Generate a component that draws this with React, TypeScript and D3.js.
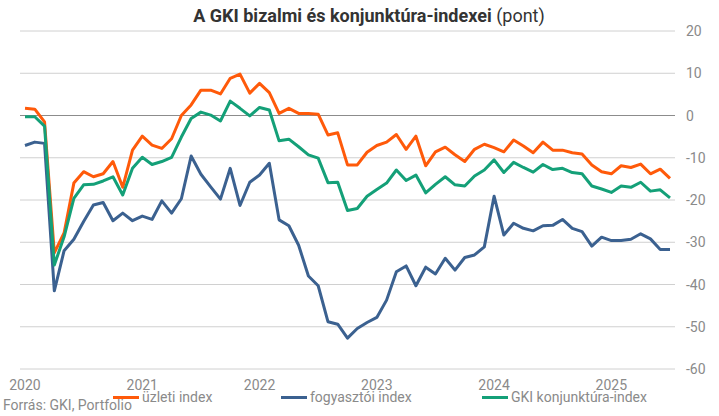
import { line, range, scaleLinear } from "d3";

const years = ["2020", "2021", "2022", "2023", "2024", "2025"];
const yTicks = [20, 10, 0, -10, -20, -30, -40, -50, -60];

// monthly values, Jan 2020 .. Jul 2025
const uzleti = [
  1.7, 1.5, -1.5, -32.5, -27.8, -16, -13.3, -14.5, -13.8, -10.9, -17, -8.2,
  -4.9, -7, -7.8, -5.5, 0, 2.5, 6, 6, 5.1, 8.8, 9.8, 5.3,
  7.6, 5.4, 0.5, 1.7, 0.5, 0.5, 0.3, -4.6, -4.1, -11.7, -11.7, -8.7,
  -7.1, -6.3, -4.5, -8, -4.9, -11.9, -8.6, -7.5, -9.3, -10.9, -8, -6.8,
  -7.6, -8.6, -5.8, -7.2, -8.8, -6.3, -8.2, -8.2, -8.8, -9.1, -11.7, -13.3,
  -13.8, -11.9, -12.3, -11.5, -13.8, -12.7, -14.9,
];

const fogyasztoi = [
  -7.1, -6.3, -6.6, -41.5, -32, -29.3, -25.1, -21.2, -20.6, -24.9, -23.1, -24.9,
  -23.8, -24.6, -20.2, -23.1, -19.7, -9.6, -13.9, -16.9, -19.8, -12.5, -21.3, -15.8,
  -14.1, -11.3, -24.7, -26.1, -30.7, -38, -40.3, -48.8, -49.4, -52.7, -50.4, -49,
  -47.8, -43.7, -37, -35.6, -40.3, -35.9, -37.5, -33.8, -36.6, -33.6, -33, -31.1,
  -19.1, -28.3, -25.5, -26.7, -27.3, -26.1, -26, -24.6, -26.7, -27.5, -30.9, -28.8,
  -29.6, -29.6, -29.3, -28, -29.2, -31.7, -31.7,
];

const konjunktura = [
  -0.3, -0.3, -2.5, -35.4, -28.7, -19.6, -16.4, -16.3, -15.5, -14.5, -18.8, -12.5,
  -9.9, -11.6, -10.9, -9.9, -5.1, -0.7, 0.8, 0.1, -1.3, 3.4, 1.7, -0.1,
  1.9, 1.3, -6, -5.6, -7.4, -9.3, -10.1, -15.9, -15.8, -22.5, -22, -19.1,
  -17.5, -16, -12.9, -15.4, -14.1, -18.3, -16.3, -14.5, -16.4, -16.7, -14.3, -12.9,
  -10.5, -13.5, -11.1, -12.3, -13.4, -11.6, -12.8, -12.5, -13.5, -13.8, -16.7, -17.4,
  -18.2, -16.7, -17, -15.8, -17.9, -17.6, -19.5,
];

const series = [
  { name: "üzleti index", values: uzleti, color: "#ff5a0a", lx: 113 },
  { name: "fogyasztói index", values: fogyasztoi, color: "#3b6190", lx: 281 },
  { name: "GKI konjunktúra-index", values: konjunktura, color: "#14a078", lx: 482 },
];

export default function App() {
  const width = 719;
  const height = 416;
  const font = "Roboto, 'Noto Sans', sans-serif";

  const x = scaleLinear().domain([0, uzleti.length - 1]).range([25, 670]);
  const y = scaleLinear().domain([-60, 20]).range([369, 31]);
  const gridX0 = 20;
  const gridX1 = 675;

  const path = line<number>()
    .x((_, i) => x(i))
    .y((d) => y(d));

  return (
    <svg
      width={width}
      height={height}
      style={{ position: "absolute", left: 0, top: 0, background: "#fff" }}
      fontFamily={font}
    >
      <text x={369} y={22} textAnchor="middle" fontSize={18} fill="#333">
        <tspan fontWeight="bold">A GKI bizalmi és konjunktúra-indexei</tspan>
        <tspan> (pont)</tspan>
      </text>

      {yTicks.map((t) => (
        <g key={t}>
          <line
            x1={gridX0}
            x2={gridX1}
            y1={y(t)}
            y2={y(t)}
            stroke={t === 0 ? "#8c8c8c" : "#d0d0d0"}
            strokeWidth={1}
          />
          <text x={686} y={y(t) + 5} fontSize={14} fill="#8a8a8a">
            {t}
          </text>
        </g>
      ))}

      {years.map((yr, k) => (
        <text key={yr} x={x(k * 12)} y={390} textAnchor="middle" fontSize={14} fill="#8a8a8a">
          {yr}
        </text>
      ))}

      {range(series.length).map((k) => (
        <path
          key={series[k].name}
          d={path(series[k].values) ?? ""}
          fill="none"
          stroke={series[k].color}
          strokeWidth={3}
          strokeLinejoin="round"
        />
      ))}

      {series.map((s) => (
        <g key={s.name}>
          <line x1={s.lx} x2={s.lx + 26} y1={397.5} y2={397.5} stroke={s.color} strokeWidth={3} />
          <text x={s.lx + 29} y={402} fontSize={14} fill="#8a8a8a">
            {s.name}
          </text>
        </g>
      ))}

      <text x={3} y={410} fontSize={14} fill="#8a8a8a">
        Forrás: GKI, Portfolio
      </text>
    </svg>
  );
}
